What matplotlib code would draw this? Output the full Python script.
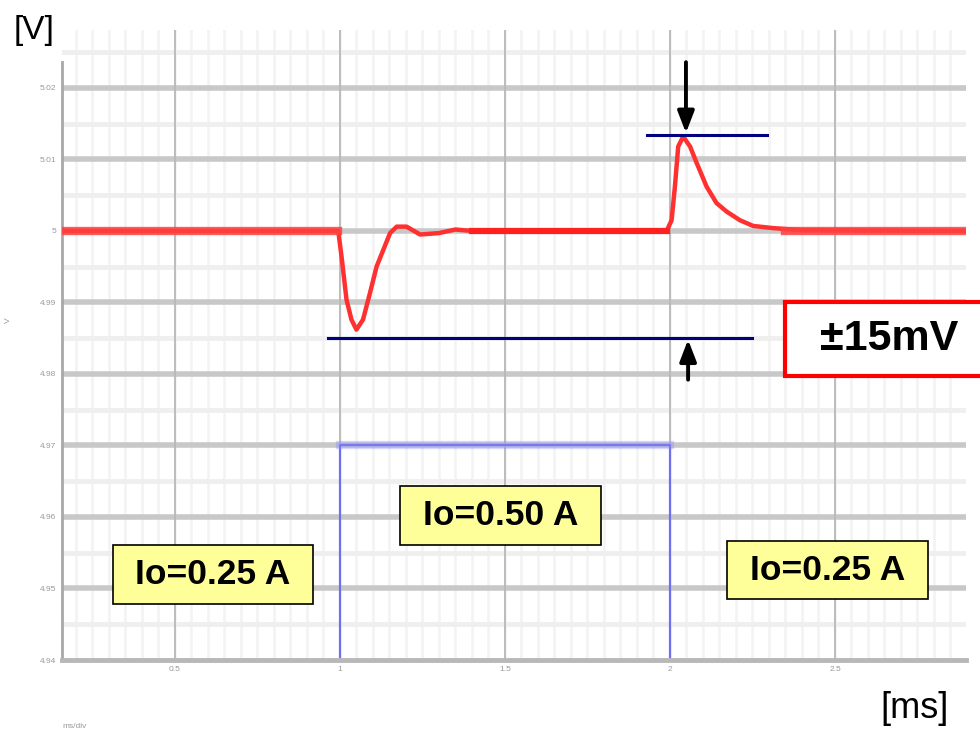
import numpy as np
from matplotlib import pyplot as plt
from matplotlib.patches import Rectangle

plt.rcParams['font.family'] = ['Liberation Sans', 'DejaVu Sans']

# output voltage trace (time in ms, deviation in mV)
t_ms = [0.16, 0.995, 1.005, 1.020, 1.035, 1.050, 1.070, 1.091, 1.111, 1.131,
        1.152, 1.172, 1.202, 1.243, 1.30, 1.35, 1.40, 1.99, 2.005, 2.015,
        2.025, 2.040, 2.061, 2.081, 2.111, 2.141, 2.172, 2.212, 2.252, 2.312,
        2.40, 2.90]
dv_mv = [0.0, 0.0, -3.6, -9.6, -12.4, -13.8, -12.4, -8.7, -5.0, -2.7,
         -0.3, 0.6, 0.6, -0.5, -0.3, 0.2, 0.0, 0.0, 1.5, 6.2,
         11.8, 13.2, 11.8, 9.5, 6.2, 3.9, 2.7, 1.5, 0.7, 0.4,
         0.1, 0.0]
v_nom = 5.0

# load current step
t_load = [0.16, 1.0, 1.0, 2.0, 2.0, 2.9]
i_load = [0.25, 0.25, 0.50, 0.50, 0.25, 0.25]

# marker lines (+peak / -limit)
upper_mv, upper_t = 13.4, (1.93, 2.294)
lower_mv, lower_t = -15.0, (0.964, 2.248)

yticks = [4.94, 4.95, 4.96, 4.97, 4.98, 4.99, 5.00, 5.01, 5.02]
ylabels = ["4.94", "4.95", "4.96", "4.97", "4.98", "4.99", "5", "5.01", "5.02"]
xticks = [0.5, 1.0, 1.5, 2.0, 2.5]
xlabels = ["0.5", "1", "1.5", "2", "2.5"]

W, H = 980, 737
fig = plt.figure(figsize=(W / 100, H / 100), dpi=100)
ax = fig.add_axes([62 / W, 77 / H, 904 / W, 630 / H])
ax.set_xlim(0.158, 2.897)
ax.set_ylim(4.94, 5.0281)

# grid like the scope screen
for x in np.arange(0.2, 2.9, 0.05):
    ax.axvline(x, color="#f3f3f3", lw=1.8, zorder=0)
for x in xticks:
    ax.axvline(x, color="#b8b8b8", lw=1.3, zorder=0.5)
for y in np.arange(4.945, 5.03, 0.01):
    ax.axhline(y, color="#efefef", lw=3.5, zorder=0.2)
for y in yticks[1:]:
    ax.axhline(y, color="#c8c8c8", lw=4, zorder=0.4)

ax.set_xticks(xticks, xlabels)
ax.set_yticks(yticks, ylabels)
ax.tick_params(length=0, labelsize=6, labelcolor="#999999", pad=4)
for s in ["top", "right", "bottom"]:
    ax.spines[s].set_visible(False)
ax.spines["left"].set_color("#a8a8a8")
ax.spines["left"].set_linewidth(2)
ax.spines["left"].set_bounds(4.94, 5.0236)

v = v_nom + np.array(dv_mv) / 1000
ax.plot(t_ms, v, color="#ff3030", lw=3.2, zorder=3, solid_capstyle="butt")
ax.plot(t_ms[:2], v[:2], color="#ff4040", lw=6, alpha=0.85, zorder=3)
ax.plot([1.4, 1.99], [v_nom, v_nom], color="#ff2020", lw=4.5, zorder=3)
ax.plot([2.35, 2.897], [v_nom, v_nom], color="#ff4040", lw=6, alpha=0.85, zorder=3)

ax.plot(upper_t, [v_nom + upper_mv / 1000] * 2, color="#000080", lw=2.2, zorder=4)
ax.plot(lower_t, [v_nom + lower_mv / 1000] * 2, color="#000080", lw=2.2, zorder=4)

arrow = dict(arrowstyle="-|>,head_length=1.3,head_width=0.5",
             color="black", lw=2.8, shrinkA=0, shrinkB=0)
ax.annotate("", xy=(2.0485, v_nom + 0.0137), xytext=(2.0485, v_nom + 0.0236),
            arrowprops=arrow, zorder=5)
ax.annotate("", xy=(2.055, v_nom - 0.0152), xytext=(2.055, v_nom - 0.0208),
            arrowprops=arrow, zorder=5)

# current trace on its own scale
ax2 = ax.twinx()
ax2.set_ylim(0.25, 0.9826)
ax2.plot(t_load, i_load, color="#7070ee", lw=1.6, zorder=2)
ax2.plot([1.0, 2.0], [0.5, 0.5], color="#8888ff", lw=6, alpha=0.35, zorder=2)
ax2.set_yticks([])
for s in ["top", "right", "left"]:
    ax2.spines[s].set_visible(False)
ax2.spines["bottom"].set_color("#b8b8b8")
ax2.spines["bottom"].set_linewidth(3.5)


def box(x0, y0, x1, y1, text, face, edge, lw, size, tx=None):
    fig.add_artist(Rectangle((x0 / W, 1 - y1 / H), (x1 - x0) / W, (y1 - y0) / H,
                             transform=fig.transFigure, facecolor=face,
                             edgecolor=edge, lw=lw, zorder=10, clip_on=False))
    cx = (x0 + x1) / 2 if tx is None else tx
    fig.text(cx / W, 1 - (y0 + y1) / 2 / H, text, ha="center", va="center",
             fontsize=size, fontweight="bold", zorder=11)


box(113, 545, 313, 604, "Io=0.25 A", "#ffff99", "black", 1.2, 25.5)
box(400, 486, 601, 545, "Io=0.50 A", "#ffff99", "black", 1.2, 25.5)
box(727, 541, 928, 599, "Io=0.25 A", "#ffff99", "black", 1.2, 25.5)
box(785, 302, 1005, 376, "±15mV", "white", "red", 3, 31, tx=889)

fig.text(14 / W, 1 - 30 / H, "[V]", ha="left", va="center", fontsize=24)
fig.text(915 / W, 1 - 708 / H, "[ms]", ha="center", va="center", fontsize=26)
fig.text(62 / W, 1 - 727 / H, "ms/div", ha="left", va="center", fontsize=6, color="#999999")
fig.text(5 / W, 1 - 320 / H, "V", ha="left", va="center", fontsize=6, color="#999999", rotation=90)

fig.savefig("out.png", dpi=100)
